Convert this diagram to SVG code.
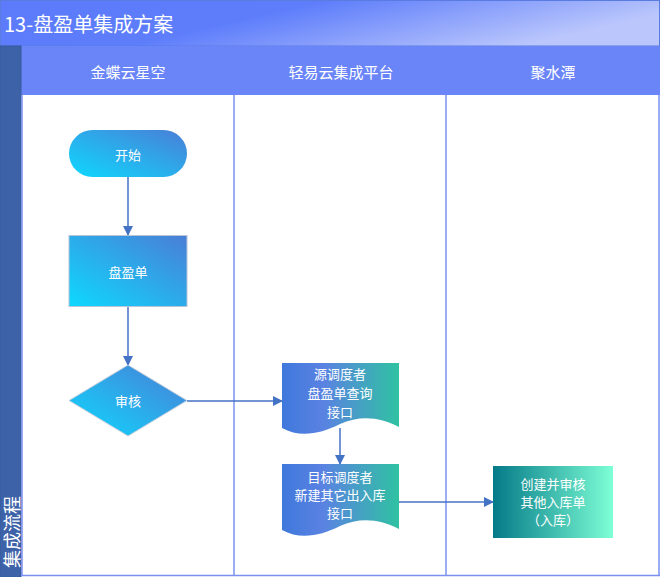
<svg xmlns="http://www.w3.org/2000/svg" width="660" height="577" viewBox="0 0 660 577">
<defs>
<linearGradient id="gTitle" x1="0" y1="0" x2="1" y2="0.3">
<stop offset="0" stop-color="#5b7bfb"/><stop offset="0.45" stop-color="#5d7dfb"/><stop offset="1" stop-color="#bac6fc"/>
</linearGradient>
<linearGradient id="gBlue" x1="0" y1="1" x2="1" y2="0">
<stop offset="0" stop-color="#0ed8ff"/><stop offset="1" stop-color="#4a7ed6"/>
</linearGradient>
<linearGradient id="gDoc" x1="0" y1="0" x2="1" y2="0">
<stop offset="0" stop-color="#3f78dc"/><stop offset="0.35" stop-color="#5a82e2"/><stop offset="1" stop-color="#2fc2a2"/>
</linearGradient>
<linearGradient id="gTeal" x1="0" y1="0" x2="1" y2="0">
<stop offset="0" stop-color="#047a88"/><stop offset="1" stop-color="#7dffd6"/>
</linearGradient>
<marker id="arr" markerWidth="10" markerHeight="10" refX="9" refY="5" orient="auto" markerUnits="userSpaceOnUse">
<path d="M0,0 L10,5 L0,10 Z" fill="#4472c4"/>
</marker>
</defs>
<style>
.t{font-family:"Noto Sans CJK SC","Liberation Sans",sans-serif;fill:#fff;text-anchor:middle;dominant-baseline:central}
.n{font-size:13px}
.h{font-size:15px}
.lane{stroke:#7b90f2;stroke-width:1.5;fill:none}
.c{stroke:#4472c4;stroke-width:1.5;fill:none;marker-end:url(#arr)}
</style>
<rect x="0" y="0" width="660" height="577" fill="#fff"/>
<g id="title">
<rect x="0.5" y="0.5" width="659" height="45.5" fill="url(#gTitle)" stroke="#5a7be0"/>
<text x="4" y="23" class="t" style="font-size:20px;text-anchor:start">13-盘盈单集成方案</text>
</g>
<g id="header">
<rect x="18" y="46" width="642" height="49" fill="#6a85f8"/>
<text x="128" y="71" class="t h">金蝶云星空</text>
<text x="341" y="71" class="t h">轻易云集成平台</text>
<text x="553" y="71" class="t h">聚水潭</text>
</g>
<g id="pool">
<rect x="0" y="46" width="21" height="531" fill="#3d62a8" stroke="#345a9e"/>
<text transform="translate(11,532) rotate(-90)" class="t" style="font-size:18px">集成流程</text>
<line x1="22" y1="95" x2="22" y2="576" class="lane"/>
<line x1="234" y1="95" x2="234" y2="576" class="lane"/>
<line x1="446" y1="95" x2="446" y2="576" class="lane"/>
<line x1="659" y1="95" x2="659" y2="576" class="lane"/>
<line x1="21" y1="575.5" x2="660" y2="575.5" class="lane"/>
</g>
<g id="edges">
<line x1="128" y1="177" x2="128" y2="235" class="c"/>
<line x1="128" y1="307" x2="128" y2="365" class="c"/>
<line x1="187" y1="401" x2="282" y2="401" class="c"/>
<line x1="340" y1="428" x2="340" y2="464" class="c"/>
<line x1="399" y1="502" x2="493" y2="502" class="c"/>
</g>
<g id="start">
<rect x="69" y="130" width="118" height="47" rx="23.5" fill="url(#gBlue)"/>
<text x="128" y="154" class="t n">开始</text>
</g>
<g id="pandan">
<rect x="69" y="235.5" width="118" height="71" fill="url(#gBlue)" stroke="#b8c4d8"/>
<text x="128" y="271" class="t n">盘盈单</text>
</g>
<g id="audit">
<path d="M128,365 L187,400.5 L128,436 L69,400.5 Z" fill="url(#gBlue)" stroke="#c8d0dc"/>
<text x="128" y="400" class="t n">审核</text>
</g>
<g id="query">
<path d="M282,363 H399 V427 C380,417 360,415 340,424 C320,434 300,438 282,428 Z" fill="url(#gDoc)"/>
<text x="340" y="373" class="t n">源调度者</text>
<text x="340" y="392" class="t n">盘盈单查询</text>
<text x="340" y="411" class="t n">接口</text>
</g>
<g id="create">
<path d="M282,464 H399 V529 C380,519 360,517 340,526 C320,536 300,540 282,530 Z" fill="url(#gDoc)"/>
<text x="340" y="476" class="t n">目标调度者</text>
<text x="340" y="494" class="t n">新建其它出入库</text>
<text x="340" y="512" class="t n">接口</text>
</g>
<g id="jst">
<rect x="493" y="466" width="120" height="72" fill="url(#gTeal)"/>
<text x="553" y="483" class="t n">创建并审核</text>
<text x="553" y="501" class="t n">其他入库单</text>
<text x="553" y="519" class="t n">（入库）</text>
</g>
</svg>
